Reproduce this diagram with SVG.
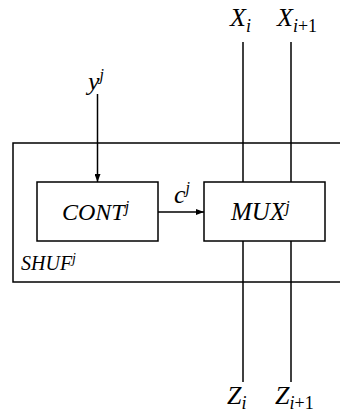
<svg xmlns="http://www.w3.org/2000/svg" width="340" height="414" viewBox="0 0 340 414">
<style>
.ln{stroke:#000;stroke-width:1.5;fill:none}
.bx{stroke:#000;stroke-width:1.5;fill:#fff}
text{font-family:"Liberation Serif","Times New Roman",serif;font-style:italic;fill:#000}
.big{font-size:26px}
.sub{font-size:18px}
.up{font-size:16px}
</style>
<defs>
<marker id="ah" markerWidth="8" markerHeight="6" refX="8" refY="3" orient="auto" markerUnits="userSpaceOnUse">
<path d="M0,0 L8,3 L0,6 Z" fill="#000"/>
</marker>
</defs>
<g id="shuf">
<rect class="ln" x="13" y="143" width="340" height="139"/>
<text x="21" y="270" style="font-size:20px">SHUF<tspan dy="-7" style="font-size:14px">j</tspan></text>
</g>
<g id="connectors">
<line class="ln" x1="97.5" y1="94" x2="97.5" y2="182" marker-end="url(#ah)"/>
<line class="ln" x1="158" y1="212" x2="204" y2="212" marker-end="url(#ah)"/>
<line class="ln" x1="243" y1="42" x2="243" y2="182"/>
<line class="ln" x1="291" y1="42" x2="291" y2="182"/>
<line class="ln" x1="243" y1="241" x2="243" y2="382"/>
<line class="ln" x1="291" y1="241" x2="291" y2="382"/>
</g>
<g id="cont">
<rect class="bx" x="37" y="182" width="121" height="59"/>
<text x="62" y="220" style="font-size:24px">CONT<tspan dy="-8" class="up">j</tspan></text>
</g>
<g id="mux">
<rect class="bx" x="204" y="182" width="121" height="59"/>
<text x="231" y="220" style="font-size:25px">MUX<tspan dy="-8" class="up">j</tspan></text>
</g>
<g id="labels">
<text class="big" x="88" y="90">y<tspan dy="-10" class="up">j</tspan></text>
<text class="big" x="174" y="203">c<tspan dy="-10" class="up">j</tspan></text>
<text class="big" x="230" y="26">X<tspan dy="6" class="sub">i</tspan></text>
<text class="big" x="277" y="26">X<tspan dy="6" class="sub">i<tspan style="font-style:normal">+1</tspan></tspan></text>
<text class="big" x="227" y="404">Z<tspan dy="5" class="sub">i</tspan></text>
<text class="big" x="275" y="404">Z<tspan dy="5" class="sub">i<tspan style="font-style:normal">+1</tspan></tspan></text>
</g>
</svg>
